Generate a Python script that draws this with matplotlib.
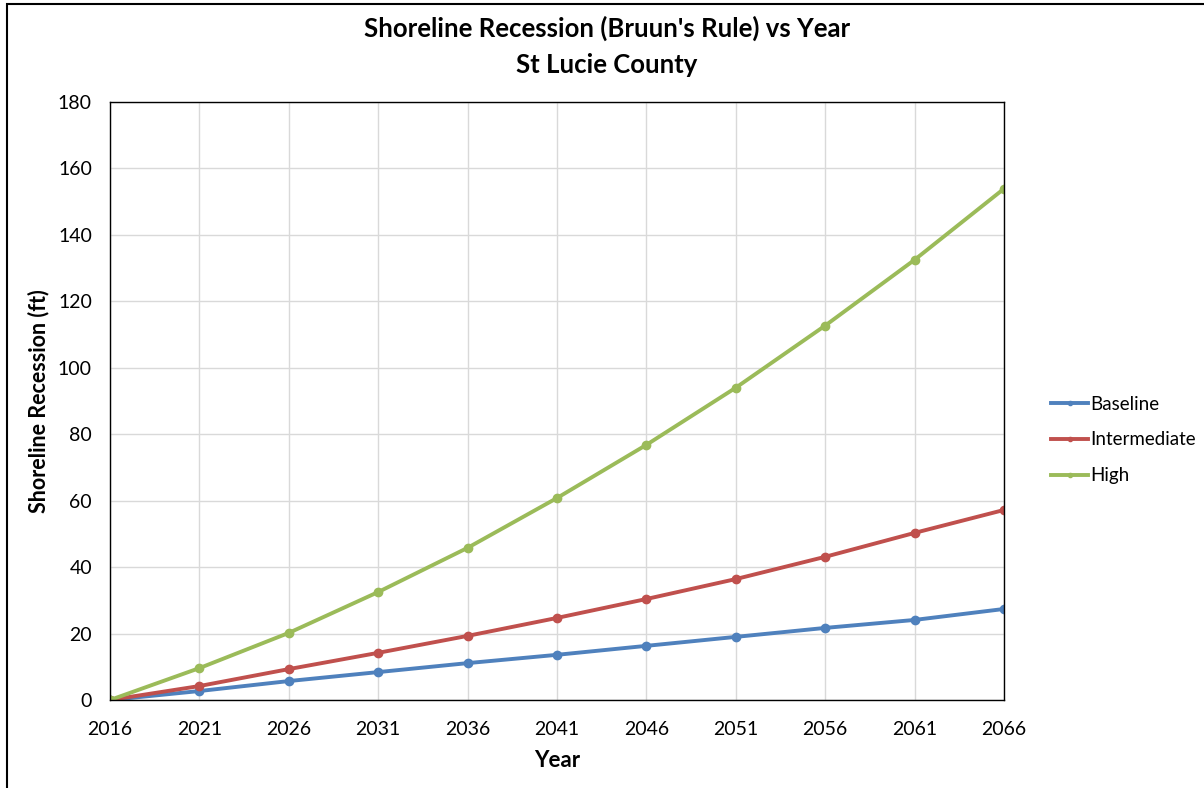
#!/usr/bin/env python3

import matplotlib
matplotlib.use('Agg')
import matplotlib.pyplot as plt
from matplotlib.patches import Rectangle

years = [2016, 2021, 2026, 2031, 2036, 2041, 2046, 2051, 2056, 2061, 2066]
baseline = [0, 2.7, 5.7, 8.4, 11.1, 13.6, 16.3, 19.0, 21.7, 24.1, 27.4]
intermediate = [0, 4.2, 9.3, 14.2, 19.3, 24.7, 30.4, 36.4, 43.1, 50.3, 57.2]
high = [0, 9.6, 20.2, 32.5, 45.8, 60.8, 76.8, 94.0, 112.7, 132.5, 153.9]

plt.rcParams['font.family'] = ['Lato', 'DejaVu Sans']

fig = plt.figure(figsize=(12.04, 7.88), dpi=100)
ax = fig.add_axes([110/1204, 88/788, 894/1204, 598/788])

ax.plot(years, baseline, '-o', color='#4F81BD', lw=2.8, ms=6, label='Baseline')
ax.plot(years, intermediate, '-o', color='#C0504D', lw=2.8, ms=6, label='Intermediate')
ax.plot(years, high, '-o', color='#9BBB59', lw=2.8, ms=6, label='High')

ax.set_xlim(2016, 2066)
ax.set_ylim(0, 180)
ax.set_xticks(years)
ax.set_yticks(range(0, 181, 20))
ax.grid(True, color='#d9d9d9', lw=1)
ax.set_axisbelow(True)
ax.tick_params(axis='x', length=0, labelsize=14, pad=15)
ax.tick_params(axis='y', length=0, labelsize=14, pad=13)
for s in ax.spines.values():
  s.set_color('black')
  s.set_linewidth(1)

ax.set_xlabel('Year', fontsize=16, fontweight='bold', labelpad=9)
ax.set_ylabel('Shoreline Recession (ft)', fontsize=15.5, fontweight='bold', labelpad=6)

fig.text(607/1204, 1 - 28/788, "Shoreline Recession (Bruun's Rule) vs Year",
         ha='center', va='center', fontsize=18.5, fontweight='bold')
fig.text(607/1204, 1 - 65/788, 'St Lucie County',
         ha='center', va='center', fontsize=18.5, fontweight='bold')

ax.legend(loc='center left', bbox_to_anchor=(1.053, 0.435), frameon=False,
          fontsize=13.5, handlelength=1.95, handletextpad=0.1, labelspacing=1.0,
          markerscale=0.5, borderaxespad=0, borderpad=0)

fig.patches.append(Rectangle((7/1204, -0.05), 1.2, 1 - 4/788 + 0.05, transform=fig.transFigure,
                             fill=False, edgecolor='black', lw=1.5))

fig.savefig('out.png', dpi=100)
